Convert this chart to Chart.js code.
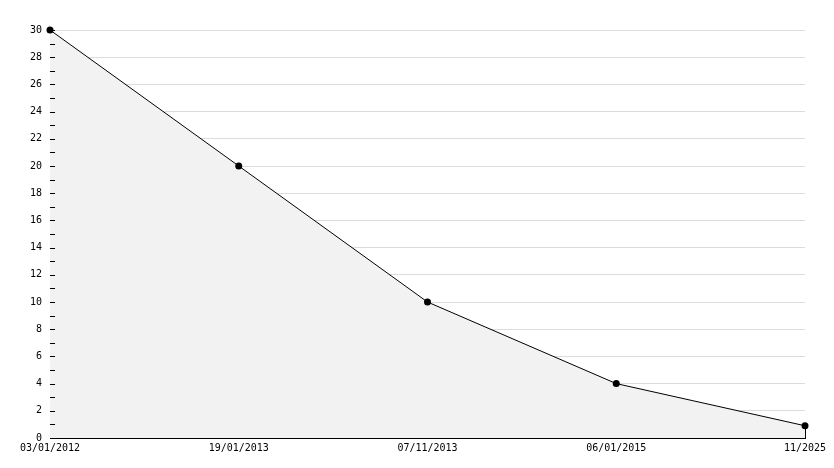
<!DOCTYPE html>
<html>
<head>
<meta charset="utf-8">
<script src="https://cdn.jsdelivr.net/npm/chart.js@4"></script>
<style>
  html, body { margin: 0; padding: 0; background: #fff; }
  #wrap { width: 834px; height: 468px; }
</style>
</head>
<body>
<div id="wrap"><canvas id="lineChart" width="834" height="468"></canvas></div>
<script>
const dates = ["03/01/2012", "19/01/2013", "07/11/2013", "06/01/2015", "11/2025"];
const values = [30, 20, 10, 4, 0.9];
const yMin = 0;
const yMax = 30;

const font = { family: "'DejaVu Sans Mono', monospace", size: 10 };

// small ticks on the inside of the y axis + closing edge of the fill
const innerTicks = {
  id: "innerTicks",
  afterDatasetsDraw(chart) {
    const ctx = chart.ctx;
    const y = chart.scales.y;
    const x = chart.scales.x;
    const area = chart.chartArea;
    ctx.save();
    ctx.strokeStyle = "#000";
    ctx.lineWidth = 1;
    ctx.beginPath();
    for (let v = yMin; v <= yMax; v++) {
      const py = Math.round(y.getPixelForValue(v)) + 0.5;
      ctx.moveTo(area.left, py);
      ctx.lineTo(area.left + 5, py);
    }
    // fill edge at the last point
    const last = values.length - 1;
    const px = Math.round(x.getPixelForValue(last)) + 0.5;
    ctx.moveTo(px, y.getPixelForValue(values[last]));
    ctx.lineTo(px, y.getPixelForValue(0));
    ctx.stroke();
    ctx.restore();
  },
};

const chart = new Chart(document.getElementById("lineChart").getContext("2d"), {
  type: "line",
  data: {
    labels: dates,
    datasets: [
      {
        data: values,
        borderColor: "#000",
        borderWidth: 1,
        backgroundColor: "#f2f2f2",
        fill: "origin",
        tension: 0,
        clip: false,
        pointRadius: 3.5,
        pointBackgroundColor: "#000",
        pointBorderColor: "#000",
        pointBorderWidth: 0,
      },
    ],
  },
  options: {
    responsive: false,
    animation: false,
    layout: { padding: { top: 30, right: 29, left: 0, bottom: 0 } },
    plugins: { legend: { display: false }, tooltip: { enabled: false } },
    scales: {
      x: {
        offset: false,
        afterFit: (s) => { s.height = 30; },
        grid: { display: false, drawTicks: false },
        border: { display: true, color: "#000", width: 1 },
        ticks: { color: "#000", font: font, padding: 4, maxRotation: 0, autoSkip: false },
      },
      y: {
        min: yMin,
        max: yMax,
        afterFit: (s) => { s.width = 50; },
        grid: {
          drawTicks: false,
          color: (c) => (c.tick && c.tick.value > 0 ? "#dcdcdc" : "rgba(0,0,0,0)"),
        },
        border: { display: true, color: "#000", width: 1 },
        ticks: { color: "#000", font: font, padding: 8, stepSize: 2 },
      },
    },
  },
  plugins: [innerTicks],
});
</script>
</body>
</html>
